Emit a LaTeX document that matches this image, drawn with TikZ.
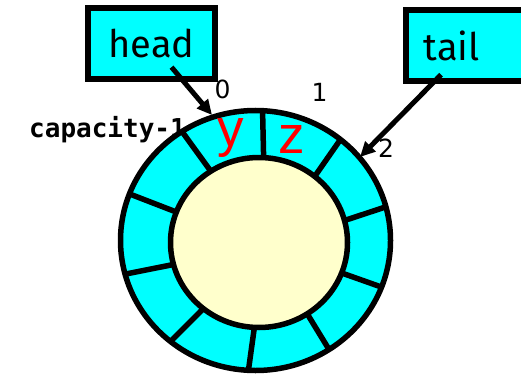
\documentclass[tikz,border=0pt]{standalone}
\usepackage{fontspec}
\setmainfont{Fira Sans}
\newfontfamily\idxfont{DejaVu Sans}
\newfontfamily\codefont{DejaVu Sans Mono}
\newfontfamily\valfont{Liberation Sans}
\usepackage{tikz}
\usetikzlibrary{arrows.meta,calc}
\definecolor{slotcyan}{RGB}{0,255,255}
\definecolor{hubyellow}{RGB}{255,255,204}

\begin{document}
\begin{tikzpicture}[x=1pt,y=-1pt,
  ptrbox/.style={draw,line width=5.5pt,fill=slotcyan,minimum height=71pt,inner sep=0pt,font=\fontsize{38}{40}\selectfont},
  arrow/.style={-{Triangle[length=15pt,width=14pt]},line width=5pt},
  idx/.style={font=\idxfont\fontsize{25}{27}\selectfont,inner sep=0pt},
  val/.style={text=red,font=\valfont\fontsize{53}{55}\selectfont,anchor=base,inner sep=0pt},
  rim/.style={line width=5.5pt}
]
\useasboundingbox (0,0) rectangle (521,377);
\clip (0,0) rectangle (521,377);

\node[font=\codefont\bfseries\fontsize{26}{28}\selectfont,anchor=base west,inner sep=0pt] (last) at (29,137) {capacity-1};

% ring of slots
\filldraw[rim,fill=slotcyan] (255.5,240.5) ellipse [x radius=135, y radius=130];
\filldraw[rim,fill=hubyellow] (259,242.5) ellipse [x radius=88.5, y radius=85];
\foreach \k in {0,...,9}
  \draw[rim] ($(259,242.5)+({36*\k-87}:88.5 and 85)$) -- ($(255.5,240.5)+({36*\k-87}:135 and 130)$);

\node[val] (y) at (231,146) {y};
\node[val] (z) at (292,153) {z};

\node[idx] (i0) at (222.5,89.5) {0};
\node[idx] (i1) at (319.5,92.5) {1};
\node[idx] (i2) at (386,148.5) {2};

\node[ptrbox,minimum width=127pt] (head) at (151.5,43.5) {head};
\node[ptrbox,anchor=west,text width=92pt,align=left,inner xsep=18pt] (tail) at (403,45.5) {tail};

\coordinate (slot0) at (212,115);
\coordinate (slot2) at (360,157);
\draw[arrow,shorten <=31pt] (head.center) -- (slot0);
\draw[arrow,shorten <=41pt] (tail.center) -- (slot2);
\end{tikzpicture}
\end{document}
